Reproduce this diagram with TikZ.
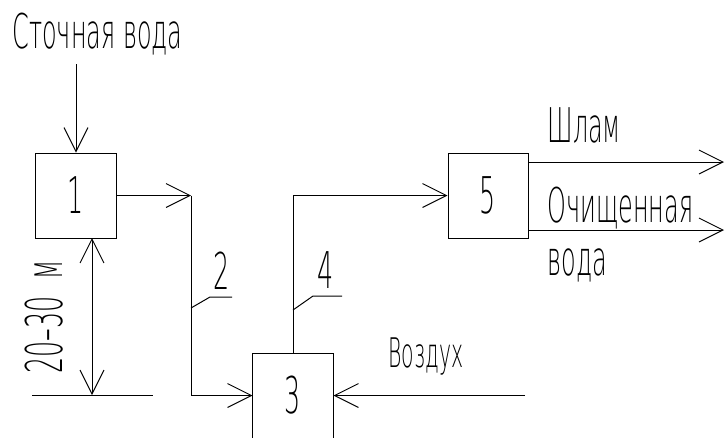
\documentclass[tikz,border=0pt]{standalone}
\usepackage{fontspec}
\setmainfont{DejaVu Sans ExtraLight}[FakeStretch=0.5]
\usepackage{tikz}
\usetikzlibrary{calc, positioning, arrows.meta}

\begin{document}
\begin{tikzpicture}[x=0.025cm, y=-0.025cm, line width=0.7pt,
    >={Straight Barb[length=17pt, width=17pt]},
    unit/.style={draw, minimum width=2cm, minimum height=2.125cm, inner sep=0pt, font=\fontsize{36}{36}\selectfont},
    lbl/.style={inner sep=0pt, font=\fontsize{34}{34}\selectfont},
    num/.style={inner sep=0pt, anchor=base, font=\fontsize{36}{36}\selectfont}]
  \useasboundingbox (0,0) rectangle (725,437);

  % apparatus
  \node[unit] (b1) at (76, 195.5) {1};
  \node[unit] (b3) at (293, 395.5) {3};
  \node[unit] (b5) at (488, 195.5) {5};

  % inflow
  \node[lbl, anchor=base west] (src) at (12, 48) {Сточная вода};
  \coordinate (in) at (76, 64);
  \draw[->] (in) -- (b1.north);

  % pipe 2
  \coordinate (p2a) at (191, 195.5);
  \coordinate (p2b) at (191, 395.5);
  \draw[->] (b1.east) -- (p2a);
  \draw[->] (p2a) -- (p2b) -- (b3.west);
  \coordinate (l2) at (191, 308);
  \draw (l2) -- ++(19, -11) -- ++(22, 0);
  \node[num] (n2) at (222, 289) {2};

  % pipe 4
  \draw[->] (b3.north) |- (b5.west);
  \coordinate (l4) at (293, 310);
  \draw (l4) -- ++(20, -14) -- ++(29, 0);
  \node[num] (n4) at (326, 288) {4};

  % air
  \coordinate (air) at (525, 395.5);
  \draw[->] (air) -- (b3.east);
  \node[lbl, anchor=base west, font=\fontsize{29}{29}\selectfont] (airtxt) at (388, 367) {Воздух};

  % outflows
  \coordinate (o1) at (724, 162);
  \coordinate (o2) at (724, 230);
  \draw[->] (b5.east |- o1) -- (o1);
  \draw[->] (b5.east |- o2) -- (o2);
  \node[lbl, anchor=base west] (sl) at (547, 142) {Шлам};
  \node[lbl, anchor=base west] (cw1) at (547, 222) {Очищенная};
  \node[lbl, anchor=base west] (cw2) at (547, 275) {вода};

  % height
  \coordinate (g1) at (32, 395);
  \coordinate (g2) at (153, 395);
  \draw (g1) -- (g2);
  \coordinate (d1) at (92, 238);
  \coordinate (d2) at (92, 395);
  \draw[<->] (d1) -- (d2);
  \node[num, rotate=90, anchor=base] (h) at (62, 317) {20–30\, м};
\end{tikzpicture}
\end{document}
